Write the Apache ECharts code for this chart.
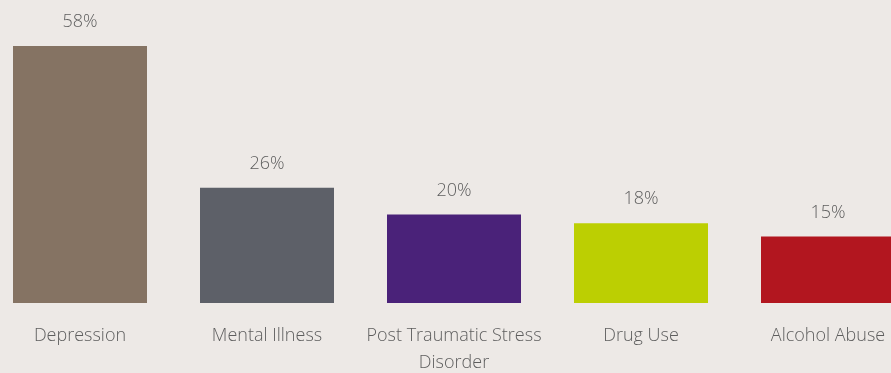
<!DOCTYPE html>
<html><head><meta charset="utf-8">
<script src="https://cdn.jsdelivr.net/npm/echarts@6/dist/echarts.min.js"></script>
<style>html,body{margin:0;padding:0;background:#ede9e6;}#c{width:891px;height:373px;}</style>
</head><body><div id="c"></div>
<script>
const categories = ['Depression', 'Mental Illness', 'Post Traumatic Stress\nDisorder', 'Drug Use', 'Alcohol Abuse'];
const values = [58, 26, 20, 18, 15];
const colors = ['#857363', '#5d6068', '#4a2279', '#bccf02', '#b2161f'];

const chart = echarts.init(document.getElementById('c'), null, {renderer: 'canvas'});
chart.setOption({
  backgroundColor: '#ede9e6',
  animation: false,
  grid: {left: -13.5, right: -30.5, top: 46, bottom: 70, containLabel: false, outerBoundsMode: 'none'},
  xAxis: {
    type: 'category', data: categories,
    axisLine: {show: false}, axisTick: {show: false},
    axisLabel: {color: '#5e5e5e', fontFamily: 'Open Sans', fontWeight: 300, fontSize: 18, lineHeight: 27, margin: 19, interval: 0}
  },
  yAxis: {type: 'value', min: 0, max: 58, show: false, splitLine: {show: false}},
  series: [{
    type: 'bar', barWidth: 134,
    data: values.map((v, i) => ({value: v, itemStyle: {color: colors[i]}})),
    label: {show: true, position: 'top', distance: 15, formatter: '{c}%', color: '#5e5e5e', fontFamily: 'Open Sans', fontWeight: 300, fontSize: 18}
  }]
});
</script></body></html>
